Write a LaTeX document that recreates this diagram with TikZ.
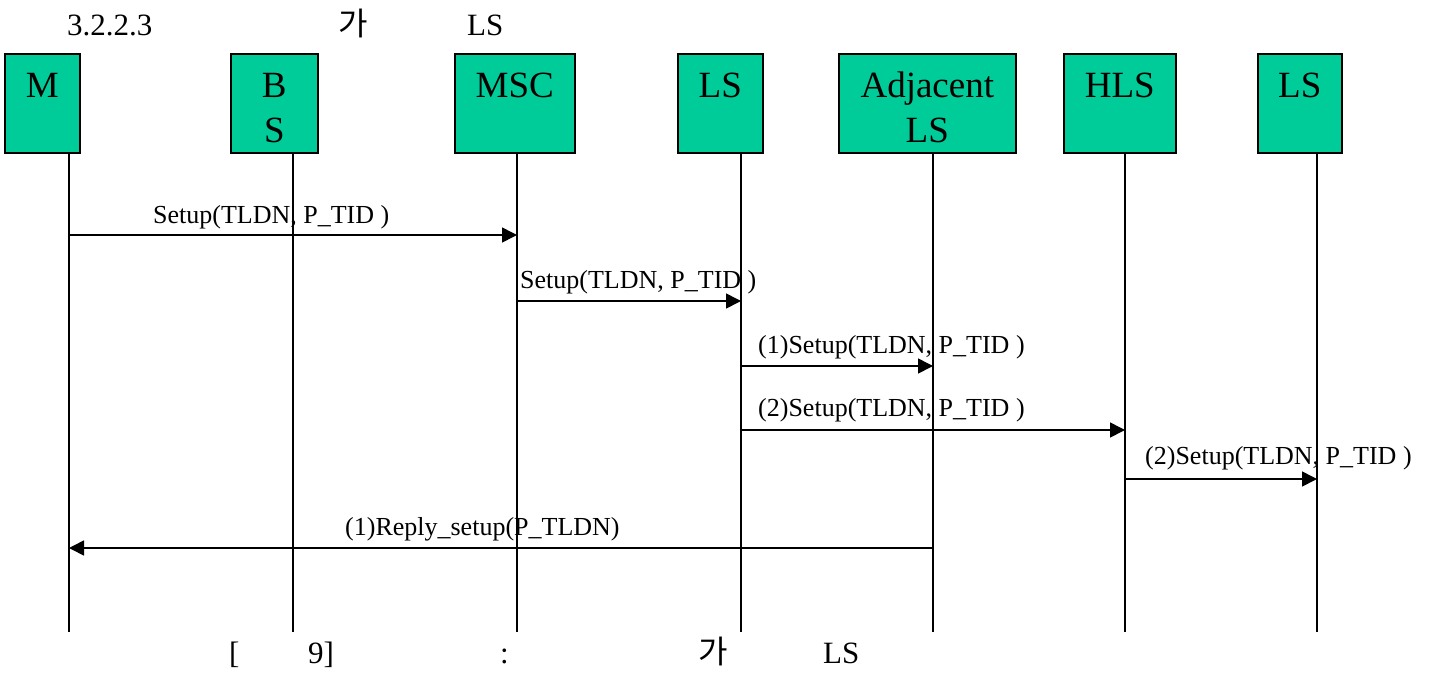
\documentclass[tikz,border=0pt]{standalone}
\usepackage{fontspec}
\setmainfont{Liberation Serif}
\newfontfamily\krfont{Noto Sans CJK KR}
\usepackage{xcolor}
\usetikzlibrary{shapes,arrows.meta}
\definecolor{boxgreen}{RGB}{0,204,153}
\tikzstyle{entity} = [rectangle, draw, line width=1.6pt, fill=boxgreen, anchor=north west, inner sep=0pt, minimum height=99pt]
\tikzstyle{entname} = [anchor=north, align=center, inner sep=0pt, font=\fontsize{37}{45}\selectfont]
\tikzstyle{lifeline} = [draw, line width=1.6pt]
\tikzstyle{line} = [draw, line width=1.6pt, -{Triangle[length=15pt,width=15pt]}]
\tikzstyle{msg} = [anchor=base west, inner sep=0pt, font=\fontsize{26}{30}\selectfont]
\tikzstyle{headtext} = [anchor=base west, inner sep=0pt, font=\fontsize{31}{34}\selectfont]
\tikzstyle{kr} = [anchor=base west, inner sep=0pt, font=\krfont\fontsize{32}{34}\selectfont]

\begin{document}
\begin{tikzpicture}[x=1pt, y=-1pt]
    \useasboundingbox (0,0) rectangle (1434,672);

    % heading
    \node [headtext] (secno) at (67,35) {3.2.2.3};
    \node [kr] (headga) at (338,35) {가};
    \node [headtext] (headls) at (467,35) {LS};

    % entities
    \node [entity, minimum width=75pt] (m) at (4,53) {};
    \node [entity, minimum width=87pt] (bs) at (230,53) {};
    \node [entity, minimum width=120pt] (msc) at (454,53) {};
    \node [entity, minimum width=85pt] (ls) at (677,53) {};
    \node [entity, minimum width=177pt] (adj) at (838,53) {};
    \node [entity, minimum width=112pt] (hls) at (1063,53) {};
    \node [entity, minimum width=84pt] (lsb) at (1257,53) {};

    \node [entname] (m_txt) at ([yshift=-20pt]m.north) {M};
    \node [entname] (bs_txt) at ([yshift=-20pt]bs.north) {B\\S};
    \node [entname] (msc_txt) at ([yshift=-20pt]msc.north) {MSC};
    \node [entname] (ls_txt) at ([yshift=-20pt]ls.north) {LS};
    \node [entname] (adj_txt) at ([yshift=-19pt]adj.north) {Adjacent\\LS};
    \node [entname] (hls_txt) at ([yshift=-20pt]hls.north) {HLS};
    \node [entname] (lsb_txt) at ([yshift=-20pt]lsb.north) {LS};

    % lifelines
    \coordinate (m-top) at (69,152);     \coordinate (m-bot) at (69,632);
    \coordinate (bs-top) at (293,152);   \coordinate (bs-bot) at (293,632);
    \coordinate (msc-top) at (517,152);  \coordinate (msc-bot) at (517,632);
    \coordinate (ls-top) at (741,152);   \coordinate (ls-bot) at (741,632);
    \coordinate (adj-top) at (933,152);  \coordinate (adj-bot) at (933,632);
    \coordinate (hls-top) at (1125,152); \coordinate (hls-bot) at (1125,632);
    \coordinate (lsb-top) at (1317,152); \coordinate (lsb-bot) at (1317,632);

    \path [lifeline] (m-top) -- (m-bot);
    \path [lifeline] (bs-top) -- (bs-bot);
    \path [lifeline] (msc-top) -- (msc-bot);
    \path [lifeline] (ls-top) -- (ls-bot);
    \path [lifeline] (adj-top) -- (adj-bot);
    \path [lifeline] (hls-top) -- (hls-bot);
    \path [lifeline] (lsb-top) -- (lsb-bot);

    % message levels
    \coordinate (y1) at (0,235);
    \coordinate (y2) at (0,301);
    \coordinate (y3) at (0,366);
    \coordinate (y4) at (0,430);
    \coordinate (y5) at (0,479);
    \coordinate (y6) at (0,548);

    \path [line] (m-top |- y1) -- (msc-top |- y1);
    \path [line] (msc-top |- y2) -- (ls-top |- y2);
    \path [line] (ls-top |- y3) -- (adj-top |- y3);
    \path [line] (ls-top |- y4) -- (hls-top |- y4);
    \path [line] (hls-top |- y5) -- (lsb-top |- y5);
    \path [line] (adj-top |- y6) -- (m-top |- y6);

    \node [msg] (setup1) at (153,223) {Setup(TLDN, P\_TID )};
    \node [msg] (setup2) at (520,288) {Setup(TLDN, P\_TID )};
    \node [msg] (setup3) at (758,353) {(1)Setup(TLDN, P\_TID )};
    \node [msg] (setup4) at (758,416) {(2)Setup(TLDN, P\_TID )};
    \node [msg] (setup5) at (1145,464) {(2)Setup(TLDN, P\_TID )};
    \node [msg] (reply1) at (345,535) {(1)Reply\_setup(P\_TLDN)};

    % caption
    \node [headtext] (capl) at (229,663) {[};
    \node [headtext] (capno) at (308,663) {9]};
    \node [headtext] (capcolon) at (500,663) {:};
    \node [kr] (capga) at (698,663) {가};
    \node [headtext] (capls) at (823,663) {LS};
  \end{tikzpicture}
\end{document}
